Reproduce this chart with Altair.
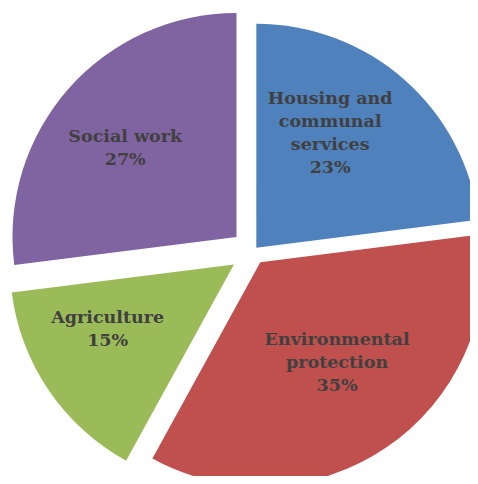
import altair as alt

# --- data ---
categories = ["Housing and communal services", "Environmental protection", "Agriculture", "Social work"]
label_lines = [["Housing and", "communal", "services"], ["Environmental", "protection"], ["Agriculture"], ["Social work"]]
shares = [23, 35, 15, 27]

# --- style ---
colors = ["#4F81BD", "#C0504D", "#9BBB59", "#8064A2"]
explode_px = [5, 13, 23, 22]
label_radius = [136, 127, 142, 142]
label_shift_deg = [-8.5, -3, 7, -3]
LINE_H = 23
W, H = 462, 468
CX, CY = 245, 243.5
R = 224

rows = [
    {"order": i, "category": c, "value": v, "lines": l + [f"{v}%"]}
    for i, (c, v, l) in enumerate(zip(categories, shares, label_lines))
]

base = (
    alt.Chart(alt.Data(values=rows))
    .transform_joinaggregate(total="sum(value)")
    .transform_window(cum="sum(value)", sort=[alt.SortField("order")], frame=[None, 0])
    .transform_calculate(
        t0="(datum.cum - datum.value) / datum.total * 2 * PI",
        t1="datum.cum / datum.total * 2 * PI",
    )
    .transform_calculate(
        mid="(datum.t0 + datum.t1) / 2",
        ex=f"{explode_px}[datum.order]",
        lr=f"{label_radius}[datum.order]",
        la=f"{label_shift_deg}[datum.order] * PI / 180",
    )
    .transform_calculate(
        cx=f"{CX} + datum.ex * sin(datum.mid)",
        cy=f"{CY} - datum.ex * cos(datum.mid)",
    )
    .transform_calculate(
        lx="datum.cx + datum.lr * sin(datum.mid + datum.la)",
        ly=f"datum.cy - datum.lr * cos(datum.mid + datum.la) - (length(datum.lines) - 1) / 2 * {LINE_H}",
    )
)

arcs = base.mark_arc(outerRadius=R, stroke=None).encode(
    theta=alt.Theta("t0:Q", scale=None),
    theta2="t1:Q",
    x=alt.X("cx:Q", scale=None),
    y=alt.Y("cy:Q", scale=None),
    color=alt.Color("category:N", scale=alt.Scale(domain=categories, range=colors), legend=None),
)

labels = base.mark_text(
    font="DejaVu Serif", fontWeight="bold", fontSize=17.5, color="#404040",
    lineHeight=LINE_H, align="center", baseline="middle",
).encode(
    x=alt.X("lx:Q", scale=None),
    y=alt.Y("ly:Q", scale=None),
    text="lines:N",
)

chart = (
    alt.layer(arcs, labels)
    .properties(width=W, height=H, autosize="none", padding=0, background="white")
    .configure_view(stroke=None)
)

chart.save("out.html", embed_options={"renderer": "svg", "actions": False})
